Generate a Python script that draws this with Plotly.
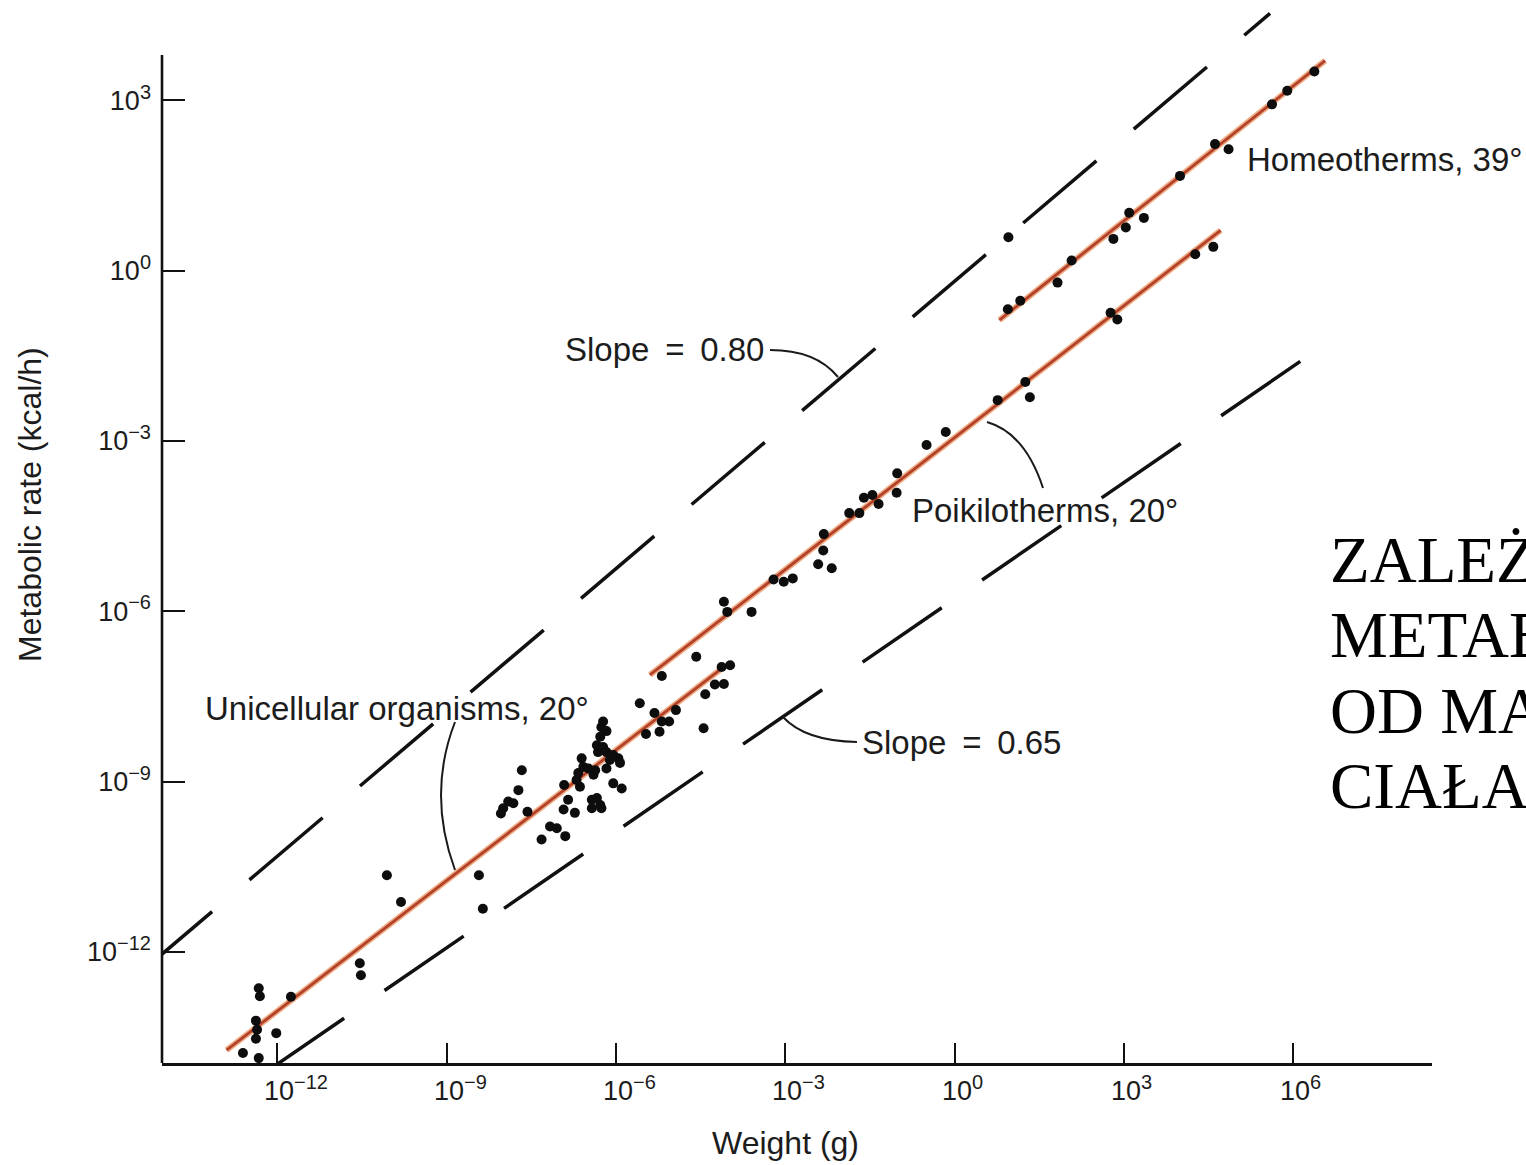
import plotly.graph_objects as go

# ---------------- data (log10 values) ----------------
# weight in g (log10) and metabolic rate in kcal/h (log10)
uni_logw = [-12.61, -12.33, -12.38, -12.36, -12.38, -12.02, -12.33, -12.31, -11.76, -10.54,
            -10.52, -10.06, -9.81, -8.43, -8.36, -7.67, -7.73, -7.91, -7.82, -8.00,
            -8.04, -7.57, -7.17, -7.05, -6.90, -7.32, -6.92, -6.85, -6.93, -6.73,
            -6.70, -6.64, -6.67, -6.61, -6.58, -6.49, -6.40, -6.37, -6.43, -6.34,
            -6.28, -6.43, -6.26, -6.23, -6.26, -6.17, -6.28, -6.34, -6.32, -6.23,
            -6.17, -6.05, -6.11, -6.17, -5.96, -5.93, -6.05, -5.90, -5.58, -5.32,
            -4.94, -5.19, -5.06, -5.23, -5.47, -4.45, -4.42, -4.25, -4.09, -4.13, -3.98]
uni_logm = [-13.78, -13.87, -13.21, -13.37, -13.53, -13.43, -12.64, -12.78, -12.79, -12.20,
            -12.41, -10.65, -11.12, -10.65, -11.24, -8.80, -9.15, -9.35, -9.38, -9.47,
            -9.56, -9.53, -9.79, -9.82, -9.96, -10.02, -9.06, -9.32, -9.49, -9.55,
            -8.97, -9.09, -8.85, -8.59, -8.74, -8.77, -8.88, -8.80, -9.32, -9.29,
            -9.41, -9.47, -9.47, -7.94, -8.04, -8.11, -8.21, -8.36, -8.48, -8.39,
            -8.48, -8.53, -8.62, -8.77, -8.59, -8.67, -9.03, -9.12, -7.62, -7.79,
            -7.74, -7.94, -7.94, -8.12, -8.16, -8.06, -7.46, -7.29, -7.28, -6.98, -6.95]

poik_logw = [-5.19, -4.58, -4.09, -4.03, -3.60, -3.21, -3.03, -2.87, -2.42, -2.18,
             -2.33, -2.32, -1.87, -1.69, -1.61, -1.46, -1.35, -1.02, -1.03, -0.50,
             -0.16, 0.76, 1.25, 1.33, 2.76, 2.88, 4.26, 4.58]
poik_logm = [-7.14, -6.80, -5.83, -6.01, -6.01, -5.44, -5.48, -5.42, -5.17, -5.24,
             -4.93, -4.64, -4.27, -4.27, -4.00, -3.95, -4.11, -3.57, -3.91, -3.07,
             -2.84, -2.28, -1.96, -2.23, -0.74, -0.86, 0.29, 0.42]

homeo_logw = [0.94, 1.16, 1.82, 2.07, 2.81, 3.03, 3.09, 3.35, 3.99, 4.61, 4.85, 5.62, 5.89, 6.37, 0.95]
homeo_logm = [-0.68, -0.53, -0.21, 0.18, 0.56, 0.76, 1.02, 0.93, 1.67, 2.23, 2.14, 2.93, 3.17, 3.51, 0.59]

# fitted regression lines (end points, log10)
homeo_fit_logw = [0.79, 6.56]
homeo_fit_logm = [-0.87, 3.70]
poik_fit_logw = [-5.40, 4.71]
poik_fit_logm = [-7.12, 0.71]
uni_fit_logw = [-12.90, -4.16]
uni_fit_logm = [-13.73, -7.03]

# reference slope lines (dashed)
slope80_logw = [-14.453, 5.585]
slope80_logm = [-12.383, 4.532]
slope65_logw = [-12.219, 6.205]
slope65_logm = [-14.125, -1.540]

x_tick_exp = [-12, -9, -6, -3, 0, 3, 6]
y_tick_exp = [3, 0, -3, -6, -9, -12]

x_title = "Weight (g)"
y_title = "Metabolic rate (kcal/h)"
polish_lines = ["ZALEŻNOŚĆ", "METABOLIZMU", "OD MASY", "CIAŁA"]

# ---------------- layout helpers ----------------
W, H = 1526, 1165
PL, PR, PT, PB = 162, 1432, 10, 1063   # plot area in page pixels
XR = [-14.044, 8.454]
YR = [-13.956, 4.592]


def px(xp):
    return (xp - PL) / (PR - PL)


def py(yp):
    return (PB - yp) / (PB - PT)


def tolin(v):
    return [10 ** e for e in v]


def sup(e, size=20):
    s = str(e).replace("-", "\u2212")
    return "10<sup><span style='font-size:%dpx'>%s</span></sup>" % (size, s)


SANS = "Liberation Sans, Arial, Helvetica, sans-serif"
INK = "#1c1c1c"

fig = go.Figure()

# dashed slope lines
for lw, lm in [(slope80_logw, slope80_logm), (slope65_logw, slope65_logm)]:
    fig.add_trace(go.Scatter(x=tolin(lw), y=tolin(lm), mode="lines",
                             line=dict(color="#111111", width=3.5, dash="96px,49px"),
                             hoverinfo="skip", showlegend=False))

# regression lines (orange halo + red core)
for lw, lm in [(homeo_fit_logw, homeo_fit_logm), (poik_fit_logw, poik_fit_logm),
               (uni_fit_logw, uni_fit_logm)]:
    fig.add_trace(go.Scatter(x=tolin(lw), y=tolin(lm), mode="lines",
                             line=dict(color="#efae86", width=6),
                             hoverinfo="skip", showlegend=False))
    fig.add_trace(go.Scatter(x=tolin(lw), y=tolin(lm), mode="lines",
                             line=dict(color="#b3412a", width=2.8),
                             hoverinfo="skip", showlegend=False))

# data points
for lw, lm, name in [(uni_logw, uni_logm, "Unicellular organisms"),
                     (poik_logw, poik_logm, "Poikilotherms"),
                     (homeo_logw, homeo_logm, "Homeotherms")]:
    fig.add_trace(go.Scatter(x=tolin(lw), y=tolin(lm), mode="markers", name=name,
                             marker=dict(color="#0d0d0d", size=10, line=dict(width=0)),
                             showlegend=False))

annotations = []


def ann(text, xp, yp, xanchor="left", size=33, angle=0, family=SANS, color=INK):
    annotations.append(dict(text=text, x=px(xp), y=py(yp), xref="paper", yref="paper",
                            xanchor=xanchor, yanchor="middle", showarrow=False,
                            textangle=angle, font=dict(family=family, size=size, color=color)))


ann("Slope \u2009=\u2009 0.80", 766, 349, xanchor="right")
ann("Slope \u2009=\u2009 0.65", 860, 742, xanchor="left")
ann("Poikilotherms, 20\u00b0", 910, 510, xanchor="left")
ann("Homeotherms, 39\u00b0", 1245, 160, xanchor="left")
ann("Unicellular organisms, 20\u00b0", 203, 708, xanchor="left")
ann(x_title, 785, 1143, xanchor="center", size=32)
ann(y_title, 30, 505, xanchor="center", angle=-90, size=32)

polish_y = [560, 635, 711, 786]
for t, yy in zip(polish_lines, polish_y):
    ann(t, 1328, yy, xanchor="left", size=65, family="Liberation Serif, Times New Roman, serif",
        color="#000000")

# x tick labels: "10" starts just left of each tick, exponent trails to the right
for e in x_tick_exp:
    annotations.append(dict(text=sup(e, 20), x=e, xref="x", y=py(1088), yref="paper",
                            xanchor="left", yanchor="middle", xshift=-15, showarrow=False,
                            font=dict(family=SANS, size=27, color=INK)))


def path(pts):
    (x0, y0), (cx, cy), (x1, y1) = pts
    return "M %.5f,%.5f Q %.5f,%.5f %.5f,%.5f" % (px(x0), py(y0), px(cx), py(cy), px(x1), py(y1))


shapes = []
for pts in [((770, 350), (816, 350), (838, 377)),
            ((987, 422), (1025, 433), (1043, 488)),
            ((783, 717), (805, 741), (857, 742)),
            ((455, 722), (427, 794), (455, 870))]:
    shapes.append(dict(type="path", path=path(pts), xref="paper", yref="paper",
                       line=dict(color="#1a1a1a", width=2)))

# y axis line (shorter than plot area, as in the original)
shapes.append(dict(type="line", xref="paper", yref="paper", x0=0, x1=0,
                   y0=py(1063), y1=py(55), line=dict(color="#111111", width=2.6)))

fig.update_layout(
    width=W, height=H,
    margin=dict(l=PL, r=W - PR, t=PT, b=H - PB, autoexpand=False),
    paper_bgcolor="white", plot_bgcolor="white",
    annotations=annotations, shapes=shapes,
    xaxis=dict(type="log", range=XR, showgrid=False, zeroline=False,
               showline=True, linecolor="#111111", linewidth=2.6,
               ticks="inside", ticklen=20, tickwidth=2.2, tickcolor="#111111",
               tickvals=[10 ** e for e in x_tick_exp], showticklabels=False),
    yaxis=dict(type="log", range=YR, showgrid=False, zeroline=False,
               showline=False,
               ticks="inside", ticklen=23, tickwidth=2.2, tickcolor="#111111",
               tickvals=[10 ** e for e in y_tick_exp], ticktext=[sup(e, 20) for e in y_tick_exp],
               tickfont=dict(family=SANS, size=27, color=INK), ticklabelstandoff=10),
)

fig.write_html("out.html")
